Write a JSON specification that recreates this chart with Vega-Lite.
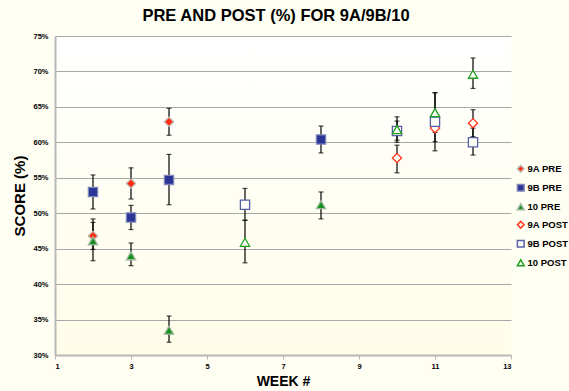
{
  "$schema": "https://vega.github.io/schema/vega-lite/v6.json",
  "width": 456,
  "height": 319,
  "autosize": {"type": "none"},
  "padding": {"left": 55, "top": 36, "right": 58, "bottom": 36},
  "background": "#fffef2",
  "title": {
    "text": "PRE  AND POST (%) FOR 9A/9B/10",
    "font": "Liberation Sans",
    "fontSize": 16.5,
    "fontWeight": "bold",
    "color": "#000000",
    "anchor": "middle",
    "offset": 8,
    "dx": -7
  },
  "config": {
    "font": "Liberation Sans",
    "view": {"stroke": null, "fill": {"gradient": "linear", "x1": 0, "y1": 0, "x2": 0, "y2": 1, "stops": [{"offset": 0, "color": "#ffffff"}, {"offset": 1, "color": "#fffde8"}]}},
    "axisY": {
      "values": [30, 35, 40, 45, 50, 55, 60, 65, 70, 75],
      "labelExpr": "datum.value + '%'", "labelOverlap": false,
      "titleFont": "Liberation Sans", "titleFontSize": 15, "titleFontWeight": "bold", "titleColor": "#000000", "titlePadding": 5,
      "labelFont": "Liberation Sans", "labelFontSize": 7.5, "labelFontWeight": "bold", "labelColor": "#000000",
      "gridColor": "#a8a8a8", "gridWidth": 1, "domainColor": "#b8b8b8", "domainWidth": 2, "ticks": false, "labelPadding": 7
    },
    "legend": {
      "labelFont": "Liberation Sans",
      "labelFontSize": 9.5,
      "labelFontWeight": "bold",
      "labelColor": "#000000",
      "symbolSize": 45,
      "rowPadding": 5,
      "labelOffset": 2,
      "padding": 0
    }
  },
  "data": {
    "values": [
      {"week": 2, "series": "9A PRE", "score": 46.8, "lo": 44.9, "hi": 48.7},
      {"week": 3, "series": "9A PRE", "score": 54.2, "lo": 52.0, "hi": 56.4},
      {"week": 4, "series": "9A PRE", "score": 62.9, "lo": 61.0, "hi": 64.8},
      {"week": 2, "series": "9B PRE", "score": 53.0, "lo": 50.6, "hi": 55.4},
      {"week": 3, "series": "9B PRE", "score": 49.4, "lo": 47.7, "hi": 51.1},
      {"week": 4, "series": "9B PRE", "score": 54.7, "lo": 51.2, "hi": 58.3},
      {"week": 8, "series": "9B PRE", "score": 60.4, "lo": 58.5, "hi": 62.3},
      {"week": 2, "series": "10 PRE", "score": 46.1, "lo": 43.3, "hi": 49.2},
      {"week": 3, "series": "10 PRE", "score": 44.0, "lo": 42.6, "hi": 45.8},
      {"week": 4, "series": "10 PRE", "score": 33.5, "lo": 31.8, "hi": 35.5},
      {"week": 8, "series": "10 PRE", "score": 51.2, "lo": 49.2, "hi": 53.0},
      {"week": 10, "series": "9A POST", "score": 57.8, "lo": 55.7, "hi": 59.6},
      {"week": 11, "series": "9A POST", "score": 62.0, "lo": 60.1, "hi": 63.9},
      {"week": 12, "series": "9A POST", "score": 62.7, "lo": 60.8, "hi": 64.6},
      {"week": 6, "series": "9B POST", "score": 51.2, "lo": 49.0, "hi": 53.5},
      {"week": 10, "series": "9B POST", "score": 61.6, "lo": 60.3, "hi": 63.0},
      {"week": 11, "series": "9B POST", "score": 62.9, "lo": 58.8, "hi": 67.0},
      {"week": 12, "series": "9B POST", "score": 60.0, "lo": 58.2, "hi": 62.0},
      {"week": 6, "series": "10 POST", "score": 45.9, "lo": 43.0, "hi": 49.0},
      {"week": 10, "series": "10 POST", "score": 61.8, "lo": 60.0, "hi": 63.6},
      {"week": 11, "series": "10 POST", "score": 64.2, "lo": 61.4, "hi": 67.0},
      {"week": 12, "series": "10 POST", "score": 69.6, "lo": 67.6, "hi": 71.9}
    ]
  },
  "encoding": {
    "x": {
      "field": "week", "type": "quantitative",
      "scale": {"domain": [1, 13], "nice": false, "zero": false},
      "axis": {
        "title": "WEEK #", "values": [1, 3, 5, 7, 9, 11, 13],
        "titleFont": "Liberation Sans", "titleFontSize": 14, "titleFontWeight": "bold", "titleColor": "#000000", "titlePadding": 5,
        "labelFont": "Liberation Sans", "labelFontSize": 7.5, "labelFontWeight": "bold", "labelColor": "#000000",
        "grid": false, "domainColor": "#b8b8b8", "domainWidth": 2, "tickColor": "#b8b8b8", "tickSize": 4, "labelPadding": 3,
        "labelOverlap": false
      }
    }
  },
  "layer": [
    {
      "mark": {"type": "rule", "color": "#000000", "strokeWidth": 1.2},
      "encoding": {
        "y": {"field": "lo", "type": "quantitative", "title": "SCORE (%)",
          "scale": {"domain": [30, 75], "nice": false, "zero": false}},
        "y2": {"field": "hi"}
      }
    },
    {
      "mark": {"type": "tick", "orient": "horizontal", "color": "#000000", "size": 5, "thickness": 1.2},
      "encoding": {"y": {"field": "lo", "type": "quantitative", "title": "SCORE (%)"}}
    },
    {
      "mark": {"type": "tick", "orient": "horizontal", "color": "#000000", "size": 5, "thickness": 1.2},
      "encoding": {"y": {"field": "hi", "type": "quantitative", "title": "SCORE (%)"}}
    },
    {
      "mark": {"type": "point", "filled": true, "opacity": 1, "strokeWidth": 1.3, "size": 85},
      "encoding": {
        "y": {"field": "score", "type": "quantitative", "title": "SCORE (%)"},
        "shape": {"field": "series", "type": "nominal",
          "legend": {"title": null, "orient": "none", "legendX": 461, "legendY": 128},
          "scale": {"domain": ["9A PRE", "9B PRE", "10 PRE", "9A POST", "9B POST", "10 POST"],
                    "range": ["diamond", "square", "triangle-up", "diamond", "square", "triangle-up"]}},
        "fill": {"field": "series", "type": "nominal",
          "legend": {"title": null, "orient": "none", "legendX": 461, "legendY": 128},
          "scale": {"domain": ["9A PRE", "9B PRE", "10 PRE", "9A POST", "9B POST", "10 POST"],
                    "range": ["#ff2a10", "#2b3596", "#16901c", "#fffef6", "#fffef6", "#fffef6"]}},
        "stroke": {"field": "series", "type": "nominal",
          "legend": {"title": null, "orient": "none", "legendX": 461, "legendY": 128},
          "scale": {"domain": ["9A PRE", "9B PRE", "10 PRE", "9A POST", "9B POST", "10 POST"],
                    "range": ["#c0b8b0", "#8088b8", "#a0b8a0", "#ff3a20", "#5560a8", "#20a020"]}}
      }
    }
  ]
}
